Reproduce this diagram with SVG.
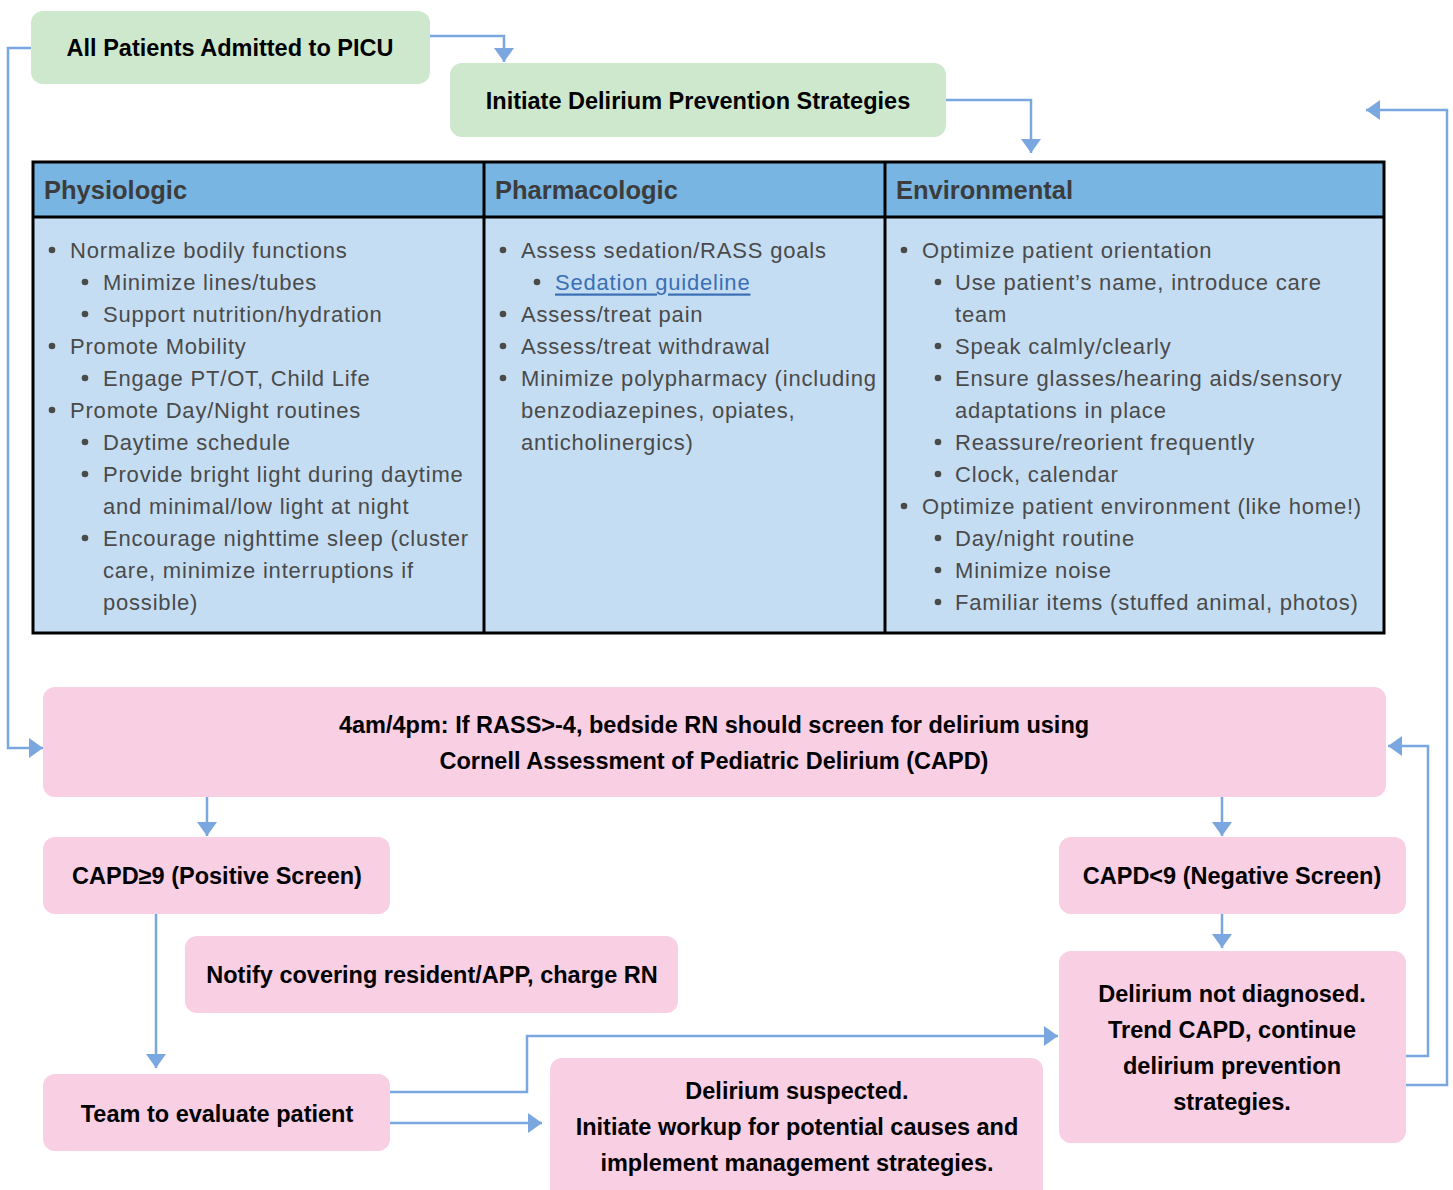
<svg xmlns="http://www.w3.org/2000/svg" width="1453" height="1190" viewBox="0 0 1453 1190">
<style>
.green{fill:#cee8cd}
.pink{fill:#f8cfe3}
.bt{font-family:"Liberation Sans",Arial,sans-serif;font-weight:bold;font-size:23.5px;fill:#000;text-anchor:middle;dominant-baseline:central}
.hd{font-family:"Liberation Sans",Arial,sans-serif;font-weight:bold;font-size:25.5px;fill:#3c3c3c;dominant-baseline:central}
.tx{font-family:"Liberation Sans",Arial,sans-serif;font-size:22px;letter-spacing:0.8px;fill:#4a4a4a;dominant-baseline:central}
.lk{fill:#3a6fb5;text-decoration:underline}
.cn{fill:none;stroke:#7aa7df;stroke-width:2.5}
.dot{fill:#4a4a4a}
</style>
<defs>
<marker id="arr" markerUnits="userSpaceOnUse" markerWidth="14" markerHeight="20" refX="14" refY="10" orient="auto" viewBox="0 0 14 20">
<path d="M0,0 L14,10 L0,20 z" fill="#7aa7df"/>
</marker>
</defs>

<g id="connectors">
<path class="cn" d="M430,36 H504 V62" marker-end="url(#arr)"/>
<path class="cn" d="M946,100 H1031 V153" marker-end="url(#arr)"/>
<path class="cn" d="M31,48 H8 V748 H43" marker-end="url(#arr)"/>
<path class="cn" d="M1406,1085 H1447 V110 H1366" marker-end="url(#arr)"/>
<path class="cn" d="M1406,1056 H1428 V746 H1388" marker-end="url(#arr)"/>
<path class="cn" d="M207,797 V836" marker-end="url(#arr)"/>
<path class="cn" d="M1222,797 V836" marker-end="url(#arr)"/>
<path class="cn" d="M1222,914 V948" marker-end="url(#arr)"/>
<path class="cn" d="M156,914 V1068" marker-end="url(#arr)"/>
<path class="cn" d="M390,1092 H527 V1036 H1058" marker-end="url(#arr)"/>
<path class="cn" d="M390,1123 H542" marker-end="url(#arr)"/>
</g>

<g id="node-admitted">
<rect class="green" x="31" y="11" width="399" height="73" rx="12"/>
<text class="bt" x="230" y="48">All Patients Admitted to PICU</text>
</g>
<g id="node-initiate">
<rect class="green" x="450" y="63" width="496" height="74" rx="12"/>
<text class="bt" x="698" y="101">Initiate Delirium Prevention Strategies</text>
</g>

<g id="table">
<rect x="33" y="162" width="1351" height="55" fill="#78b5e2"/>
<rect x="33" y="217" width="1351" height="416" fill="#c5ddf2"/>
<rect x="33" y="162" width="1351" height="471" fill="none" stroke="#000" stroke-width="3"/>
<line x1="33" y1="217" x2="1384" y2="217" stroke="#000" stroke-width="3"/>
<line x1="484" y1="162" x2="484" y2="633" stroke="#000" stroke-width="3"/>
<line x1="885" y1="162" x2="885" y2="633" stroke="#000" stroke-width="3"/>
<text class="hd" x="44" y="190">Physiologic</text>
<text class="hd" x="495" y="190">Pharmacologic</text>
<text class="hd" x="896" y="190">Environmental</text>

<g id="col-physiologic">
<circle class="dot" cx="52" cy="250" r="3.3"/><text class="tx" x="70" y="250">Normalize bodily functions</text>
<circle class="dot" cx="85" cy="282" r="3.3"/><text class="tx" x="103" y="282">Minimize lines/tubes</text>
<circle class="dot" cx="85" cy="314" r="3.3"/><text class="tx" x="103" y="314">Support nutrition/hydration</text>
<circle class="dot" cx="52" cy="346" r="3.3"/><text class="tx" x="70" y="346">Promote Mobility</text>
<circle class="dot" cx="85" cy="378" r="3.3"/><text class="tx" x="103" y="378">Engage PT/OT, Child Life</text>
<circle class="dot" cx="52" cy="410" r="3.3"/><text class="tx" x="70" y="410">Promote Day/Night routines</text>
<circle class="dot" cx="85" cy="442" r="3.3"/><text class="tx" x="103" y="442">Daytime schedule</text>
<circle class="dot" cx="85" cy="474" r="3.3"/><text class="tx" x="103" y="474">Provide bright light during daytime</text>
<text class="tx" x="103" y="506">and minimal/low light at night</text>
<circle class="dot" cx="85" cy="538" r="3.3"/><text class="tx" x="103" y="538">Encourage nighttime sleep (cluster</text>
<text class="tx" x="103" y="570">care, minimize interruptions if</text>
<text class="tx" x="103" y="602">possible)</text>
</g>

<g id="col-pharmacologic">
<circle class="dot" cx="503" cy="250" r="3.3"/><text class="tx" x="521" y="250">Assess sedation/RASS goals</text>
<circle class="dot" cx="537" cy="282" r="3.3"/><text class="tx lk" x="555" y="282">Sedation guideline</text>
<circle class="dot" cx="503" cy="314" r="3.3"/><text class="tx" x="521" y="314">Assess/treat pain</text>
<circle class="dot" cx="503" cy="346" r="3.3"/><text class="tx" x="521" y="346">Assess/treat withdrawal</text>
<circle class="dot" cx="503" cy="378" r="3.3"/><text class="tx" x="521" y="378">Minimize polypharmacy (including</text>
<text class="tx" x="521" y="410">benzodiazepines, opiates,</text>
<text class="tx" x="521" y="442">anticholinergics)</text>
</g>

<g id="col-environmental">
<circle class="dot" cx="904" cy="250" r="3.3"/><text class="tx" x="922" y="250">Optimize patient orientation</text>
<circle class="dot" cx="938" cy="282" r="3.3"/><text class="tx" x="955" y="282">Use patient’s name, introduce care</text>
<text class="tx" x="955" y="314">team</text>
<circle class="dot" cx="938" cy="346" r="3.3"/><text class="tx" x="955" y="346">Speak calmly/clearly</text>
<circle class="dot" cx="938" cy="378" r="3.3"/><text class="tx" x="955" y="378">Ensure glasses/hearing aids/sensory</text>
<text class="tx" x="955" y="410">adaptations in place</text>
<circle class="dot" cx="938" cy="442" r="3.3"/><text class="tx" x="955" y="442">Reassure/reorient frequently</text>
<circle class="dot" cx="938" cy="474" r="3.3"/><text class="tx" x="955" y="474">Clock, calendar</text>
<circle class="dot" cx="904" cy="506" r="3.3"/><text class="tx" x="922" y="506">Optimize patient environment (like home!)</text>
<circle class="dot" cx="938" cy="538" r="3.3"/><text class="tx" x="955" y="538">Day/night routine</text>
<circle class="dot" cx="938" cy="570" r="3.3"/><text class="tx" x="955" y="570">Minimize noise</text>
<circle class="dot" cx="938" cy="602" r="3.3"/><text class="tx" x="955" y="602">Familiar items (stuffed animal, photos)</text>
</g>
</g>

<g id="node-screen">
<rect class="pink" x="43" y="687" width="1343" height="110" rx="12"/>
<text class="bt" x="714" y="725">4am/4pm: If RASS&gt;-4, bedside RN should screen for delirium using</text>
<text class="bt" x="714" y="761">Cornell Assessment of Pediatric Delirium (CAPD)</text>
</g>
<g id="node-positive">
<rect class="pink" x="43" y="837" width="347" height="77" rx="12"/>
<text class="bt" x="217" y="876">CAPD≥9 (Positive Screen)</text>
</g>
<g id="node-negative">
<rect class="pink" x="1059" y="837" width="347" height="77" rx="12"/>
<text class="bt" x="1232" y="876">CAPD&lt;9 (Negative Screen)</text>
</g>
<g id="node-notify">
<rect class="pink" x="185" y="936" width="493" height="77" rx="12"/>
<text class="bt" x="432" y="975">Notify covering resident/APP, charge RN</text>
</g>
<g id="node-team">
<rect class="pink" x="43" y="1074" width="347" height="77" rx="12"/>
<text class="bt" x="217" y="1114">Team to evaluate patient</text>
</g>
<g id="node-suspected">
<rect class="pink" x="550" y="1058" width="493" height="145" rx="12"/>
<text class="bt" x="797" y="1091">Delirium suspected.</text>
<text class="bt" x="797" y="1127">Initiate workup for potential causes and</text>
<text class="bt" x="797" y="1163">implement management strategies.</text>
</g>
<g id="node-notdiagnosed">
<rect class="pink" x="1059" y="951" width="347" height="192" rx="12"/>
<text class="bt" x="1232" y="994">Delirium not diagnosed.</text>
<text class="bt" x="1232" y="1030">Trend CAPD, continue</text>
<text class="bt" x="1232" y="1066">delirium prevention</text>
<text class="bt" x="1232" y="1102">strategies.</text>
</g>
</svg>
